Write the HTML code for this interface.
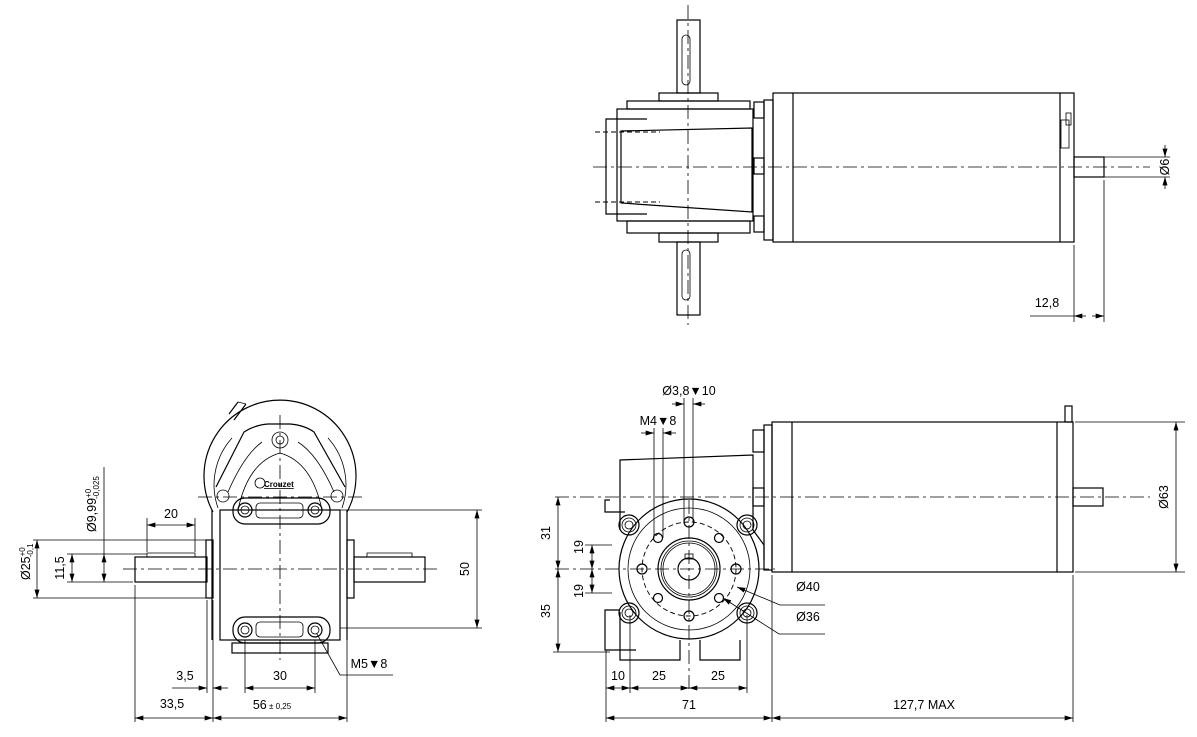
<!DOCTYPE html>
<html><head><meta charset="utf-8"><style>
html,body{margin:0;padding:0;background:#fff;}
svg{display:block;}
text{font-family:"Liberation Sans",sans-serif;font-size:12.5px;fill:#000;}
.o{fill:none;stroke:#000;stroke-width:1.2;}
.t{fill:none;stroke:#000;stroke-width:0.8;}
.c{fill:none;stroke:#000;stroke-width:0.8;stroke-dasharray:14 4 3 4;}
.d{fill:none;stroke:#000;stroke-width:0.9;stroke-dasharray:5 3;}
</style></head><body>
<svg width="1197" height="737" viewBox="0 0 1197 737" xmlns="http://www.w3.org/2000/svg">
<defs>
<marker id="a" viewBox="0 0 10 6" refX="10" refY="3" markerWidth="9" markerHeight="5" orient="auto-start-reverse" markerUnits="userSpaceOnUse"><path d="M0,0 L10,3 L0,6 z" fill="#000"/></marker>
</defs>

<!-- ============ TOP VIEW ============ -->
<!-- output shaft -->
<rect class="o" x="677" y="20" width="23" height="73"/>
<rect class="o" x="677" y="242" width="23" height="73"/>
<rect class="t" x="682" y="35" width="8" height="50" rx="4"/>
<rect class="t" x="682" y="250" width="8" height="50" rx="4"/>
<line class="c" x1="688" y1="5" x2="688" y2="325"/>
<!-- gearbox -->
<rect class="o" x="659" y="93" width="59" height="8"/>
<rect class="o" x="627" y="101" width="123" height="8"/>
<rect class="o" x="617" y="109" width="136" height="112"/>
<rect class="o" x="627" y="221" width="123" height="12"/>
<rect class="o" x="659" y="233" width="59" height="9"/>
<polyline class="o" points="647,119 606,119 606,214 647,214"/>
<polygon class="o" points="621,131 752,128 752,212 621,203" />
<line class="d" x1="595" y1="132" x2="660" y2="132"/>
<line class="d" x1="595" y1="202" x2="660" y2="202"/>
<!-- adapter flange -->
<rect class="o" x="754" y="102" width="10" height="16"/>
<rect class="o" x="754" y="158" width="10" height="16"/>
<rect class="o" x="754" y="216" width="10" height="16"/>
<rect class="o" x="764" y="100" width="9" height="140"/>
<!-- motor -->
<rect class="o" x="773" y="93" width="301" height="149"/>
<line class="o" x1="793" y1="93" x2="793" y2="242"/>
<line class="o" x1="1060" y1="93" x2="1060" y2="242"/>
<rect class="t" x="1061" y="120" width="8" height="28"/>
<rect class="t" x="1066" y="113" width="5" height="12"/>
<rect class="o" x="1074" y="157" width="30" height="20"/>
<line class="c" x1="593" y1="167" x2="1150" y2="167"/>
<!-- Ø6 -->
<line class="t" x1="1104" y1="157" x2="1170" y2="157"/>
<line class="t" x1="1104" y1="177" x2="1170" y2="177"/>
<line class="t" x1="1165" y1="145" x2="1165" y2="157" marker-end="url(#a)"/>
<line class="t" x1="1165" y1="189" x2="1165" y2="177" marker-end="url(#a)"/>
<text transform="translate(1169,167) rotate(-90)" text-anchor="middle">Ø6</text>
<!-- 12,8 -->
<line class="t" x1="1074" y1="245" x2="1074" y2="322"/>
<line class="t" x1="1104" y1="180" x2="1104" y2="322"/>
<line class="t" x1="1030" y1="316" x2="1074" y2="316"/>
<line class="t" x1="1086" y1="316" x2="1074" y2="316" marker-end="url(#a)"/>
<line class="t" x1="1092" y1="316" x2="1104" y2="316" marker-end="url(#a)"/>
<text x="1047" y="307" text-anchor="middle">12,8</text>

<!-- ============ BOTTOM LEFT VIEW ============ -->
<path class="o" d="M213,512 A76,76 0 1 1 347,512"/>
<path class="t" d="M218,508 A70,70 0 0 1 232,438"/>
<path class="t" d="M342,508 A70,70 0 0 0 328,438"/>
<!-- cable -->
<line class="o" x1="229" y1="414" x2="238" y2="402"/>
<line class="o" x1="234" y1="420" x2="246" y2="404"/>
<line class="t" x1="238" y1="402" x2="246" y2="404"/>
<!-- cover triangle -->
<path class="o" d="M216,487 L244,432 Q255,425 268,424 L290,424 Q304,425 314,432 L345,487"/>
<path class="t" d="M228,492 Q244,455 262,442 M298,442 Q318,455 334,492"/>
<path class="t" d="M238,510 Q248,462 280,453 Q312,462 322,510"/>
<circle class="t" cx="280" cy="440" r="8"/>
<circle class="t" cx="280" cy="440" r="4"/>
<circle class="t" cx="223" cy="496" r="6"/>
<circle class="t" cx="337" cy="496" r="6"/>
<circle class="t" cx="260" cy="483" r="5"/>
<text x="264" y="487" style="font-size:8px;font-weight:bold;text-decoration:underline">Crouzet</text>
<!-- housing -->
<rect class="o" x="220" y="510" width="120" height="130"/>
<line class="o" x1="212" y1="510" x2="212" y2="640"/>
<line class="o" x1="347" y1="510" x2="347" y2="640"/>
<rect class="o" x="206" y="540" width="7" height="58"/>
<rect class="o" x="347" y="540" width="7" height="58"/>
<!-- shafts -->
<rect class="o" x="135" y="557" width="72" height="25"/>
<path class="t" d="M147,557 L147,553 L195,553 L195,557"/>
<rect class="o" x="354" y="557" width="71" height="25"/>
<path class="t" d="M367,557 L367,553 L412,553 L412,557"/>
<line class="c" x1="123" y1="569" x2="437" y2="569"/>
<line class="c" x1="280" y1="415" x2="280" y2="660"/>
<line class="c" x1="198" y1="497" x2="362" y2="497"/>
<!-- mounting plates -->
<rect class="o" x="233" y="498" width="97" height="26" rx="12"/>
<rect class="t" x="256" y="503" width="47" height="15" rx="4"/>
<circle class="o" cx="245" cy="510" r="7"/><circle class="t" cx="245" cy="510" r="4"/>
<circle class="o" cx="315" cy="510" r="7"/><circle class="t" cx="315" cy="510" r="4"/>
<rect class="o" x="233" y="617" width="97" height="26" rx="12"/>
<rect class="t" x="256" y="622" width="47" height="15" rx="4"/>
<circle class="o" cx="245" cy="630" r="7"/><circle class="t" cx="245" cy="630" r="4"/>
<circle class="o" cx="315" cy="630" r="7"/><circle class="t" cx="315" cy="630" r="4"/>
<rect class="o" x="232" y="643" width="96" height="10"/>
<!-- dim 50 -->
<line class="t" x1="340" y1="510" x2="482" y2="510"/>
<line class="t" x1="340" y1="628" x2="482" y2="628"/>
<line class="t" x1="477" y1="510" x2="477" y2="628" marker-start="url(#a)" marker-end="url(#a)"/>
<text transform="translate(469,569) rotate(-90)" text-anchor="middle">50</text>
<!-- Ø25 -->
<line class="t" x1="33" y1="540" x2="207" y2="540"/>
<line class="t" x1="33" y1="598" x2="207" y2="598"/>
<line class="t" x1="37" y1="540" x2="37" y2="598" marker-start="url(#a)" marker-end="url(#a)"/>
<text transform="translate(30,580) rotate(-90)" text-anchor="start">Ø25<tspan style="font-size:8px" dy="-5">+0</tspan><tspan style="font-size:8px" dx="-10" dy="8">-0,1</tspan></text>
<!-- 11,5 -->
<line class="t" x1="67" y1="554" x2="147" y2="554"/>
<line class="t" x1="67" y1="582" x2="133" y2="582"/>
<line class="t" x1="72" y1="554" x2="72" y2="582" marker-start="url(#a)" marker-end="url(#a)"/>
<text transform="translate(64,568) rotate(-90)" text-anchor="middle">11,5</text>
<!-- Ø9,99 -->
<line class="t" x1="104" y1="467" x2="104" y2="554"/>
<line class="t" x1="104" y1="554" x2="104" y2="582" marker-start="url(#a)" marker-end="url(#a)"/>
<text transform="translate(96,532) rotate(-90)" text-anchor="start">Ø9,99<tspan style="font-size:8px" dy="-5">+0</tspan><tspan style="font-size:8px" dx="-10" dy="8">-0,025</tspan></text>
<!-- 20 -->
<line class="t" x1="147" y1="518" x2="147" y2="552"/>
<line class="t" x1="195" y1="518" x2="195" y2="552"/>
<line class="t" x1="147" y1="525" x2="195" y2="525" marker-start="url(#a)" marker-end="url(#a)"/>
<text x="171" y="518" text-anchor="middle">20</text>
<!-- bottom dims -->
<line class="t" x1="135" y1="585" x2="135" y2="722"/>
<line class="t" x1="207" y1="600" x2="207" y2="693"/>
<line class="t" x1="213" y1="600" x2="213" y2="722"/>
<line class="t" x1="347" y1="600" x2="347" y2="722"/>
<line class="t" x1="245" y1="640" x2="245" y2="693"/>
<line class="t" x1="315" y1="640" x2="315" y2="693"/>
<line class="t" x1="172" y1="688" x2="207" y2="688" marker-end="url(#a)"/>
<line class="t" x1="228" y1="688" x2="213" y2="688" marker-end="url(#a)"/>
<text x="185" y="680" text-anchor="middle">3,5</text>
<line class="t" x1="245" y1="688" x2="315" y2="688" marker-start="url(#a)" marker-end="url(#a)"/>
<text x="280" y="680" text-anchor="middle">30</text>
<line class="t" x1="135" y1="718" x2="213" y2="718" marker-start="url(#a)" marker-end="url(#a)"/>
<text x="172" y="708" text-anchor="middle">33,5</text>
<line class="t" x1="213" y1="718" x2="347" y2="718" marker-start="url(#a)" marker-end="url(#a)"/>
<text x="272" y="709" text-anchor="middle">56<tspan style="font-size:8px"> ± 0,25</tspan></text>
<!-- M5 -->
<polyline class="t" points="317,634 340,675 393,675"/>
<text x="369" y="668" text-anchor="middle">M5▼8</text>

<!-- ============ BOTTOM RIGHT VIEW ============ -->
<!-- motor -->
<rect class="o" x="772" y="422" width="301" height="150"/>
<line class="o" x1="792" y1="422" x2="792" y2="572"/>
<line class="o" x1="1057" y1="422" x2="1057" y2="572"/>
<rect class="o" x="1065" y="406" width="7" height="16"/>
<rect class="o" x="1073" y="488" width="30" height="18"/>
<rect class="o" x="764" y="425" width="8" height="145"/>
<rect class="o" x="753" y="430" width="11" height="22"/>
<rect class="o" x="753" y="488" width="11" height="18"/>
<!-- housing outline -->
<path class="o" d="M620,530 L620,460 L753,455 L753,530 L764,545 L764,560"/>
<path class="o" d="M610,500 L605,500 L605,512 L625,512"/>
<path class="o" d="M620,610 L605,610 L605,650 L620,650 L620,660 L680,660 L680,640 M700,640 L700,660 L740,660 L740,640"/>
<path class="o" d="M620,612 L620,650 L636,650"/>
<circle class="o" cx="689" cy="569" r="70"/>
<circle class="t" cx="689" cy="569" r="61"/>
<circle class="d" cx="689" cy="569" r="47"/>
<circle class="o" cx="689" cy="569" r="31"/>
<circle class="t" cx="689" cy="569" r="28"/>
<circle class="t" cx="689" cy="569" r="26"/>
<circle class="o" cx="689" cy="569" r="11"/>
<rect class="t" x="685" y="554" width="8" height="5"/>
<!-- holes -->
<g class="o">
<circle cx="689" cy="522" r="5"/><circle cx="689" cy="616" r="5"/>
<circle cx="642" cy="569" r="5"/><circle cx="736" cy="569" r="5"/>
<circle cx="658" cy="538" r="4.5"/><circle cx="719" cy="538" r="4.5"/>
<circle cx="658" cy="598" r="4.5"/><circle cx="719" cy="598" r="4.5"/>
</g>
<g class="o">
<circle cx="629" cy="525" r="10"/><circle cx="747" cy="525" r="10"/>
<circle cx="629" cy="613" r="10"/><circle cx="747" cy="613" r="10"/>
</g>
<g class="t">
<circle cx="629" cy="525" r="7"/><circle cx="747" cy="525" r="7"/>
<circle cx="629" cy="613" r="7"/><circle cx="747" cy="613" r="7"/>
<circle cx="629" cy="525" r="4"/><circle cx="747" cy="525" r="4"/>
<circle cx="629" cy="613" r="4"/><circle cx="747" cy="613" r="4"/>
</g>
<!-- centerlines -->
<line class="c" x1="555" y1="497" x2="1150" y2="497"/>
<line class="c" x1="555" y1="569" x2="775" y2="569"/>
<line class="c" x1="689" y1="500" x2="689" y2="690"/>
<!-- Ø3,8 & M4 -->
<line class="t" x1="684" y1="398" x2="684" y2="522"/>
<line class="t" x1="693" y1="398" x2="693" y2="522"/>
<line class="t" x1="672" y1="404" x2="684" y2="404" marker-end="url(#a)"/>
<line class="t" x1="705" y1="404" x2="693" y2="404" marker-end="url(#a)"/>
<text x="689" y="395" text-anchor="middle">Ø3,8▼10</text>
<line class="t" x1="654" y1="428" x2="654" y2="538"/>
<line class="t" x1="663" y1="428" x2="663" y2="538"/>
<line class="t" x1="641" y1="433" x2="654" y2="433" marker-end="url(#a)"/>
<line class="t" x1="676" y1="433" x2="663" y2="433" marker-end="url(#a)"/>
<text x="658" y="425" text-anchor="middle">M4▼8</text>
<!-- left dims -->
<line class="t" x1="553" y1="652" x2="610" y2="652"/>
<line class="t" x1="585" y1="545" x2="612" y2="545"/>
<line class="t" x1="585" y1="593" x2="612" y2="593"/>
<line class="t" x1="558" y1="497" x2="558" y2="569" marker-start="url(#a)" marker-end="url(#a)"/>
<line class="t" x1="558" y1="569" x2="558" y2="652" marker-start="url(#a)" marker-end="url(#a)"/>
<text transform="translate(550,533) rotate(-90)" text-anchor="middle">31</text>
<text transform="translate(550,611) rotate(-90)" text-anchor="middle">35</text>
<line class="t" x1="592" y1="545" x2="592" y2="569" marker-start="url(#a)" marker-end="url(#a)"/>
<line class="t" x1="592" y1="569" x2="592" y2="593" marker-start="url(#a)" marker-end="url(#a)"/>
<text transform="translate(583,547) rotate(-90)" text-anchor="middle">19</text>
<text transform="translate(583,591) rotate(-90)" text-anchor="middle">19</text>
<!-- bottom dims -->
<line class="t" x1="606" y1="650" x2="606" y2="722"/>
<line class="t" x1="630" y1="615" x2="630" y2="693"/>
<line class="t" x1="747" y1="615" x2="747" y2="693"/>
<line class="t" x1="772" y1="575" x2="772" y2="722"/>
<line class="t" x1="1073" y1="575" x2="1073" y2="722"/>
<line class="t" x1="606" y1="688" x2="630" y2="688" marker-start="url(#a)" marker-end="url(#a)"/>
<line class="t" x1="630" y1="688" x2="689" y2="688" marker-start="url(#a)" marker-end="url(#a)"/>
<line class="t" x1="689" y1="688" x2="747" y2="688" marker-start="url(#a)" marker-end="url(#a)"/>
<text x="618" y="680" text-anchor="middle">10</text>
<text x="659" y="680" text-anchor="middle">25</text>
<text x="718" y="680" text-anchor="middle">25</text>
<line class="t" x1="606" y1="718" x2="772" y2="718" marker-start="url(#a)" marker-end="url(#a)"/>
<line class="t" x1="772" y1="718" x2="1073" y2="718" marker-start="url(#a)" marker-end="url(#a)"/>
<text x="689" y="709" text-anchor="middle">71</text>
<text x="924" y="709" text-anchor="middle">127,7 MAX</text>
<!-- Ø40 Ø36 -->
<polyline class="t" points="825,605 780,605 737,587" marker-end="url(#a)"/>
<polyline class="t" points="825,634 779,634 723,598" marker-end="url(#a)"/>
<text x="808" y="591" text-anchor="middle">Ø40</text>
<text x="808" y="621" text-anchor="middle">Ø36</text>
<!-- Ø63 -->
<line class="t" x1="1075" y1="422" x2="1185" y2="422"/>
<line class="t" x1="1075" y1="572" x2="1185" y2="572"/>
<line class="t" x1="1176" y1="422" x2="1176" y2="572" marker-start="url(#a)" marker-end="url(#a)"/>
<text transform="translate(1168,497) rotate(-90)" text-anchor="middle">Ø63</text>
</svg>
</body></html>
